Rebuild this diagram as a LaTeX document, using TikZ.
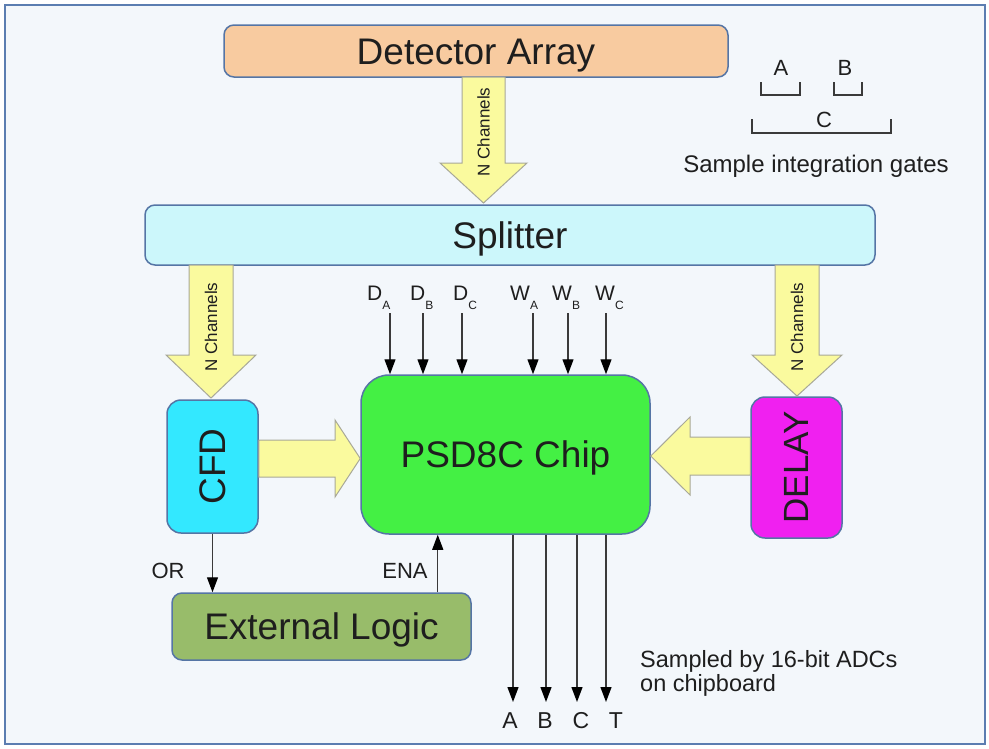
\documentclass[tikz,border=0pt]{standalone}
\usepackage{fontspec}
\setmainfont{Liberation Sans}
\usetikzlibrary{arrows.meta,calc}
\definecolor{bgc}{HTML}{F3F7FB}
\definecolor{framec}{HTML}{5B7DB1}
\definecolor{bordc}{HTML}{5575A5}
\definecolor{detc}{HTML}{F8CBA0}
\definecolor{splc}{HTML}{CCF7FB}
\definecolor{arrc}{HTML}{FAFA9E}
\definecolor{arrb}{HTML}{A8A898}
\definecolor{cfdc}{HTML}{33E8FF}
\definecolor{chipc}{HTML}{44F044}
\definecolor{delc}{HTML}{F020F0}
\definecolor{extc}{HTML}{98BC6A}
\definecolor{txtc}{HTML}{1E1E1E}
\definecolor{linec}{HTML}{3A3A3A}
\newcommand{\fs}[1]{\fontsize{#1}{#1}\selectfont}
\begin{document}
\begin{tikzpicture}[x=1pt,y=-1pt,
  box/.style={draw=bordc, line width=1.5pt, inner sep=0pt, text=txtc, font=\fs{37}},
  capbox/.style={box, text height=26.5pt, text depth=0pt},
  bigarr/.style={draw=arrb, line width=1pt, fill=arrc},
  arr/.style={draw=linec, line width=1.3pt, -{Triangle[length=15pt,width=11pt,color=black,fill=black]}},
  gate/.style={draw=linec, line width=1.1pt},
  lbl/.style={text=txtc, inner sep=0pt},
  chan/.style={text=txtc, inner sep=0pt, rotate=90, font=\fs{17}}]
\useasboundingbox (0,0) rectangle (989,748);
\fill[white] (0,0) rectangle (989,748);
\draw[framec, line width=2pt, fill=bgc] (4.5,4.5) rectangle (985,744);

% boxes
\node[capbox, fill=detc, minimum width=504pt, minimum height=52pt, rounded corners=10pt] (det) at (476,51) {Detector Array};
\node[capbox, fill=splc, minimum width=730pt, minimum height=60pt, rounded corners=10pt] (spl) at (510,235) {Splitter};
\node[box, fill=cfdc, minimum width=91pt, minimum height=133pt, rounded corners=14pt] (cfd) at (212.5,466.5) {\rotatebox{90}{CFD}};
\node[capbox, fill=chipc, minimum width=289pt, minimum height=159pt, rounded corners=28pt] (chip) at (505.5,454.5) {PSD8C Chip};
\node[box, fill=delc, minimum width=91pt, minimum height=141pt, rounded corners=14pt, font=\fs{35}] (del) at (796.5,467.5) {\rotatebox{90}{DELAY}};
\node[capbox, fill=extc, minimum width=299pt, minimum height=67pt, rounded corners=10pt] (ext) at (321.5,626.5) {External Logic};

% big arrows
\begin{scope}[shift={(483.5,77)}]
\draw[bigarr] (-21.5,0) -- (-21.5,86) -- (-43.5,86) -- (0,126) -- (43.5,86) -- (21.5,86) -- (21.5,0) -- cycle;
\node[chan] (n1) at (0,55) {N Channels};
\end{scope}
\begin{scope}[shift={(211,265)}]
\draw[bigarr] (-22,0) -- (-22,90) -- (-45,90) -- (0,133) -- (45,90) -- (22,90) -- (22,0) -- cycle;
\node[chan] (n2) at (0,62) {N Channels};
\end{scope}
\begin{scope}[shift={(797,265)}]
\draw[bigarr] (-22,0) -- (-22,90) -- (-45,90) -- (0,131) -- (45,90) -- (22,90) -- (22,0) -- cycle;
\node[chan] (n3) at (0,62) {N Channels};
\end{scope}
% horizontal big arrows
\draw[bigarr] (cfd.east |- 0,440) -- (335,440) -- (335,420) -- (chip.west |- 0,458.5) -- (335,497) -- (335,477) -- (cfd.east |- 0,477) -- cycle;
\draw[bigarr] (del.west |- 0,437) -- (690,437) -- (690,417) -- (chip.east |- 0,456) -- (690,495) -- (690,475) -- (del.west |- 0,475) -- cycle;

% top inputs
\foreach \nm/\lx/\ax/\L/\s in {da/367/390/D/A, db/410/423/D/B, dc/453/462/D/C, wa/510/533/W/A, wb/552/568/W/B, wc/595/606/W/C}{
  \node[lbl, anchor=base west, font=\fs{21}] (\nm) at (\lx,300) {\L\raisebox{-9pt}{\fs{12}\s}};
  \coordinate (\nm s) at (\ax,313);
  \draw[arr] (\nm s) -- (\nm s |- chip.north);
}

% OR / ENA
\draw[arr] (cfd.south) -- (cfd.south |- ext.north);
\node[lbl, font=\fs{22}] (or) at (168,571) {OR};
\coordinate (enas) at ([xshift=-34pt]ext.north east);
\draw[arr] (enas) -- (enas |- chip.south);
\node[lbl, font=\fs{22}] (ena) at (405,571) {ENA};

% outputs
\foreach \nm/\ax/\tx/\t in {oa/513/510/A, ob/546/545/B, oc/577/581/C, ot/606/616/T}{
  \coordinate (\nm e) at (\ax,702);
  \draw[arr] (\ax,0 |- chip.south) -- (\nm e);
  \node[lbl, font=\fs{23}] (\nm) at (\tx,721) {\t};
}
\node[lbl, font=\fs{23.5}, align=left, anchor=west] (samp) at (640,673.5) {Sampled by 16-bit ADCs\\[0pt]on chipboard};

% gates
\draw[gate] (761,82) -- (761,95) -- (800,95) -- (800,82);
\draw[gate] (834,82) -- (834,95) -- (862,95) -- (862,82);
\draw[gate] (752,119) -- (752,133) -- (891,133) -- (891,119);
\node[lbl, font=\fs{22}] (ga) at (781,68) {A};
\node[lbl, font=\fs{22}] (gb) at (845,68) {B};
\node[lbl, font=\fs{22}] (gc) at (824,120) {C};
\node[lbl, font=\fs{24}] (gt) at (816,166) {Sample integration gates};
\end{tikzpicture}
\end{document}
